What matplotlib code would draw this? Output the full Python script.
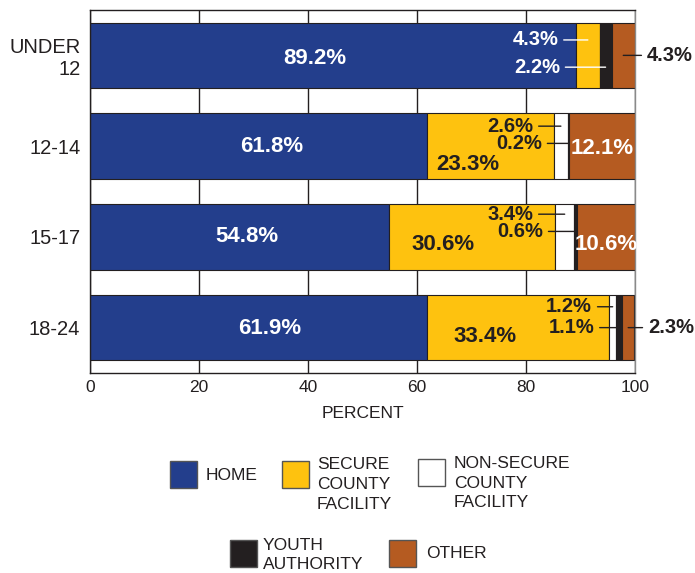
import matplotlib.pyplot as plt
from matplotlib.patches import Rectangle

plt.rcParams['font.family'] = ['Liberation Sans', 'DejaVu Sans']

groups = ['UNDER\n12', '12-14', '15-17', '18-24']
series = ['HOME', 'SECURE\nCOUNTY\nFACILITY', 'NON-SECURE\nCOUNTY\nFACILITY',
          'YOUTH\nAUTHORITY', 'OTHER']
home = [89.2, 61.8, 54.8, 61.9]
secure = [4.3, 23.3, 30.6, 33.4]
non_secure = [0.0, 2.6, 3.4, 1.2]
youth = [2.2, 0.2, 0.6, 1.1]
other = [4.3, 12.1, 10.6, 2.3]
data = [home, secure, non_secure, youth, other]

colors = ['#233e8c', '#fec20f', '#ffffff', '#231f20', '#b55b21']
dark = '#231f20'

# value labels: (bar, segment, text x, y offset, colour, style)
# style 'c' = centred in segment, 'r' = text left of a leader, 'l' = text right of a leader
labels = [
    (0, 0, 41.3, 0.03, 'white', 'c'),
    (0, 1, 85.9, -0.17, 'white', 'r'),
    (0, 3, 86.2, 0.13, 'white', 'r'),
    (0, 4, 102.2, 0.0, dark, 'l'),
    (1, 0, 33.4, 0.0, 'white', 'c'),
    (1, 1, 69.4, 0.2, dark, 'c'),
    (1, 2, 81.3, -0.22, dark, 'r'),
    (1, 3, 82.9, -0.03, dark, 'r'),
    (1, 4, 93.9, 0.03, 'white', 'c'),
    (2, 0, 28.8, 0.0, 'white', 'c'),
    (2, 1, 64.8, 0.08, dark, 'c'),
    (2, 2, 81.3, -0.25, dark, 'r'),
    (2, 3, 83.1, -0.06, dark, 'r'),
    (2, 4, 94.7, 0.08, 'white', 'c'),
    (3, 0, 33.0, 0.01, 'white', 'c'),
    (3, 1, 72.5, 0.1, dark, 'c'),
    (3, 2, 92.1, -0.23, dark, 'r'),
    (3, 3, 92.5, 0.0, dark, 'r'),
    (3, 4, 102.4, 0.0, dark, 'l'),
]

fig = plt.figure(figsize=(6.95, 5.73), dpi=100)
ax = fig.add_axes([90 / 695, 200 / 573, 545 / 695, 363 / 573])

ypos = list(range(len(groups)))
starts = []
left = [0.0] * len(groups)
for vals, col in zip(data, colors):
    ax.barh(ypos, vals, left=left, height=0.72, color=col,
            edgecolor=dark, linewidth=0.8, zorder=2)
    starts.append(left)
    left = [l + v for l, v in zip(left, vals)]

for bar, seg, tx, dy, col, style in labels:
    val = data[seg][bar]
    txt = f'{val}%'
    yy = bar + dy
    if style == 'c':
        ax.text(tx, yy, txt, color=col, fontsize=16, fontweight='bold',
                ha='center', va='center', zorder=4)
    else:
        mid = starts[seg][bar] + val / 2
        ha = 'right' if style == 'r' else 'left'
        rel = (1, 0.5) if style == 'r' else (0, 0.5)
        ax.annotate(txt, xy=(mid, yy), xytext=(tx, yy), color=col,
                    fontsize=14.5, fontweight='bold', ha=ha, va='center',
                    annotation_clip=False, zorder=4,
                    arrowprops=dict(arrowstyle='-', color=col, lw=1,
                                    shrinkA=2, shrinkB=0, relpos=rel))

ax.set_xlim(0, 100)
ax.set_ylim(3.5, -0.5)
ax.set_xticks(range(0, 101, 20))
ax.set_yticks(ypos, groups)
for t in ax.get_yticklabels():
    t.set_linespacing(1.15)
ax.xaxis.grid(True, color=dark, linewidth=1)
ax.set_axisbelow(True)
ax.tick_params(axis='x', length=0, pad=5, labelsize=12.5, labelcolor=dark)
ax.tick_params(axis='y', length=0, pad=7, labelsize=14.5, labelcolor=dark)
for s in ax.spines.values():
    s.set_color(dark)
    s.set_linewidth(1)
ax.spines['right'].set_color('#8a8a8a')
ax.set_xlabel('PERCENT', fontsize=12.5, color=dark, labelpad=8)

# legend, laid out by hand in two rows
legend_spots = [(170, 461, 206, 475), (282, 461, 317, 484.5), (418, 459, 454, 483),
                (230, 540, 263, 555), (389, 540, 426, 554)]
for (px, py, tx, ty), name, col in zip(legend_spots, series, colors):
    fig.patches.append(Rectangle((px / 695, 1 - (py + 27) / 573), 27 / 695, 27 / 573,
                                 transform=fig.transFigure, facecolor=col,
                                 edgecolor='#555555', linewidth=1))
    fig.text(tx / 695, 1 - ty / 573, name, fontsize=12.5, color=dark,
             ha='left', va='center', linespacing=1.4)

fig.savefig('out.png', dpi=100)
